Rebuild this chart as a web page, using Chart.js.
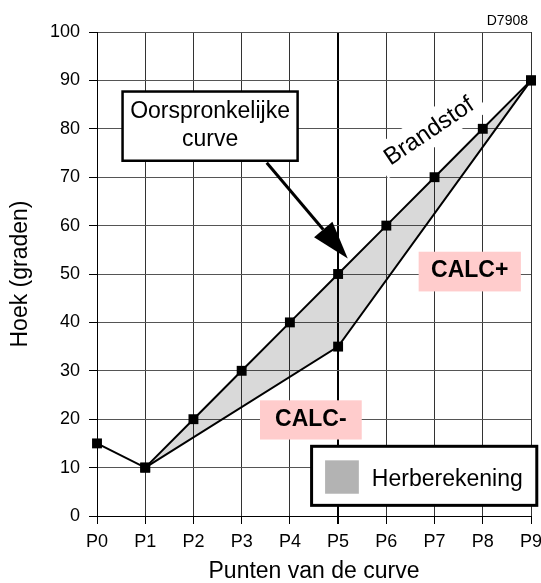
<!DOCTYPE html>
<html>
<head>
<meta charset="utf-8">
<title>Hoek per punt</title>
<script src="https://cdn.jsdelivr.net/npm/chart.js@4"></script>
<style>
  html, body { margin: 0; padding: 0; background: #fff; }
  canvas { display: block; }
</style>
</head>
<body>
<canvas id="curveChart" width="541" height="583"></canvas>
<script>
// Points along the curve and the angle (degrees) at each point
const categories = ['P0', 'P1', 'P2', 'P3', 'P4', 'P5', 'P6', 'P7', 'P8', 'P9'];
const originalCurve = [15, 10, 20, 30, 40, 50, 60, 70, 80, 90];
const recalcCurve = [null, 10, null, null, null, 35, null, null, null, 90];
const yTicks = { min: 0, max: 100, step: 10 };

const FONT = "'Liberation Sans', Arial, sans-serif";
Chart.defaults.font.family = FONT;
Chart.defaults.color = '#000';

const toPoints = values => values
  .map((v, i) => ({ x: i, y: v }))
  .filter(p => p.y !== null);

// Callout, region labels and legend on top of the plot
const overlay = {
  id: 'overlay',
  afterDatasetsDraw(chart) {
    const { ctx, scales: { x, y }, chartArea } = chart;
    const px = v => x.getPixelForValue(v);
    const py = v => y.getPixelForValue(v);
    ctx.save();

    // "Brandstof" rotated along the curve, on a white patch
    ctx.save();
    ctx.translate(px(6.88), py(79.6));
    ctx.rotate(-34 * Math.PI / 180);
    ctx.font = '24px ' + FONT;
    const bw = ctx.measureText('Brandstof').width + 18;
    ctx.fillStyle = '#fff';
    ctx.fillRect(-bw / 2, -17, bw, 34);
    ctx.fillStyle = '#000';
    ctx.textAlign = 'center';
    ctx.textBaseline = 'middle';
    ctx.fillText('Brandstof', 0, 1);
    ctx.restore();

    // callout box
    const cx0 = px(0.53), cx1 = px(4.16), cy0 = py(87.7), cy1 = py(73.4);
    ctx.fillStyle = '#fff';
    ctx.fillRect(cx0, cy0, cx1 - cx0, cy1 - cy0);
    ctx.strokeStyle = '#000';
    ctx.lineWidth = 2.5;
    ctx.strokeRect(cx0, cy0, cx1 - cx0, cy1 - cy0);
    ctx.fillStyle = '#000';
    ctx.font = '23px ' + FONT;
    ctx.textAlign = 'center';
    ctx.textBaseline = 'alphabetic';
    ctx.fillText('Oorspronkelijke', (cx0 + cx1) / 2, py(82.3));
    ctx.fillText('curve', (cx0 + cx1) / 2, py(76.5));

    // arrow from the callout to P5
    const sx = px(3.52), sy = py(73.0), tx = px(5.2), ty = py(53.2);
    const ang = Math.atan2(ty - sy, tx - sx);
    const hl = 38, hw = 12;
    const bx = tx - hl * Math.cos(ang), by = ty - hl * Math.sin(ang);
    ctx.lineWidth = 3;
    ctx.beginPath();
    ctx.moveTo(sx, sy);
    ctx.lineTo(bx, by);
    ctx.stroke();
    ctx.beginPath();
    ctx.moveTo(tx, ty);
    ctx.lineTo(bx + hw * Math.sin(ang), by - hw * Math.cos(ang));
    ctx.lineTo(bx - hw * Math.sin(ang), by + hw * Math.cos(ang));
    ctx.closePath();
    ctx.fill();

    // CALC+ / CALC- tags
    const tag = (text, x0, x1, y0, y1, base) => {
      ctx.fillStyle = '#ffcccc';
      ctx.fillRect(px(x0), py(y0), px(x1) - px(x0), py(y1) - py(y0));
      ctx.fillStyle = '#000';
      ctx.font = 'bold 23px ' + FONT;
      ctx.textAlign = 'center';
      ctx.fillText(text, (px(x0) + px(x1)) / 2, py(base));
    };
    tag('CALC+', 6.67, 8.79, 54.6, 46.4, 49.3);
    tag('CALC-', 3.38, 5.49, 23.9, 15.8, 18.5);

    // legend
    const lx0 = px(4.45), lx1 = px(9.12), ly0 = py(14.4), ly1 = py(2.2);
    ctx.fillStyle = '#fff';
    ctx.fillRect(lx0, ly0, lx1 - lx0, ly1 - ly0);
    ctx.lineWidth = 3;
    ctx.strokeRect(lx0, ly0, lx1 - lx0, ly1 - ly0);
    ctx.fillStyle = '#b3b3b3';
    ctx.fillRect(px(4.73), py(11.5), px(5.43) - px(4.73), py(4.6) - py(11.5));
    ctx.fillStyle = '#000';
    ctx.font = '23px ' + FONT;
    ctx.textAlign = 'left';
    ctx.fillText('Herberekening', px(5.70), py(6.3));

    // drawing reference
    ctx.font = '14px ' + FONT;
    ctx.textAlign = 'right';
    ctx.fillText('D7908', chartArea.right - 3, chartArea.top - 7);

    ctx.restore();
  }
};

new Chart(document.getElementById('curveChart'), {
  type: 'line',
  data: {
    datasets: [
      {
        label: 'Oorspronkelijke curve',
        data: toPoints(originalCurve),
        borderColor: '#000',
        borderWidth: 2,
        tension: 0,
        pointStyle: 'rect',
        pointRadius: 7,
        pointBorderWidth: 0,
        pointBackgroundColor: '#000',
        fill: false,
        clip: false
      },
      {
        label: 'Herberekening',
        data: toPoints(recalcCurve),
        borderColor: '#000',
        borderWidth: 2,
        tension: 0,
        pointStyle: 'rect',
        pointRadius: 7,
        pointBorderWidth: 0,
        pointBackgroundColor: '#000',
        backgroundColor: 'rgba(0,0,0,0.15)',
        fill: '-1',
        clip: false
      }
    ]
  },
  options: {
    responsive: false,
    animation: false,
    layout: { padding: { top: 32, right: 10, left: 0, bottom: 0 } },
    plugins: {
      legend: { display: false },
      tooltip: { enabled: false }
    },
    scales: {
      x: {
        type: 'linear',
        min: 0,
        max: categories.length - 1,
        ticks: {
          stepSize: 1,
          autoSkip: false,
          maxRotation: 0,
          padding: 7,
          font: { size: 18 },
          callback: v => categories[v]
        },
        grid: {
          color: c => (c.tick && c.tick.value === 5 ? '#000' : '#333'),
          lineWidth: c => (c.tick && c.tick.value === 5 ? 2 : 1),
          tickColor: '#000',
          tickLength: 8
        },
        border: { color: '#000', width: 1 },
        title: {
          display: true,
          text: 'Punten van de curve',
          font: { size: 23, lineHeight: 1 },
          padding: { top: 0, bottom: 0 }
        },
        afterFit: s => { s.height = 67; s.paddingLeft = 0; s.paddingRight = 0; }
      },
      y: {
        min: yTicks.min,
        max: yTicks.max,
        ticks: { stepSize: yTicks.step, padding: 9, font: { size: 18 } },
        grid: { color: '#555', tickColor: '#000', tickLength: 8 },
        border: { color: '#000', width: 1 },
        title: {
          display: true,
          text: 'Hoek (graden)',
          font: { size: 23, lineHeight: 1 },
          padding: { top: 9, bottom: 0 }
        },
        afterFit: s => { s.width = 97; }
      }
    }
  },
  plugins: [overlay]
});
</script>
</body>
</html>
